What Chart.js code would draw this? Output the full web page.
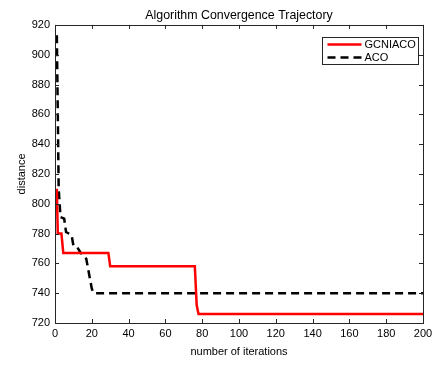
<!DOCTYPE html>
<html>
<head>
<meta charset="utf-8">
<script src="https://cdn.jsdelivr.net/npm/chart.js@4"></script>
<style>
  html, body { margin: 0; padding: 0; background: #fff; }
  #wrap { width: 444px; height: 367px; }
</style>
</head>
<body>
<div id="wrap"><canvas id="conv"></canvas></div>
<script>
// iterations where the curve changes, and the distance there
var gcnIter = [1, 1.5, 3.5, 4.5, 29, 30, 76, 77, 78, 200];
var gcnVal  = [810, 780, 780, 767, 767, 758, 758, 732, 726, 726];
var acoIter = [1, 2, 3, 5, 6, 9, 10, 12, 14, 17, 20, 21, 200];
var acoVal  = [913, 810, 791, 790, 781, 779, 772, 771, 767, 763, 743, 740, 740];
var xTicks = [0, 20, 40, 60, 80, 100, 120, 140, 160, 180, 200];
var yTicks = [720, 740, 760, 780, 800, 820, 840, 860, 880, 900, 920];
var seriesNames = ['GCNIACO', 'ACO'];

var FONT = 'Arial, "Liberation Sans", Helvetica, sans-serif';

function toPoints(xs, ys){
    return xs.map(function(x, i){ return {x: x, y: ys[i]}; });
}

// box round the axes + inward ticks, MATLAB style
var boxPlugin = {
    id: 'boxTicks',
    afterDatasetsDraw: function(chart){
        var ctx = chart.ctx, a = chart.chartArea;
        var xs = chart.scales.x, ys = chart.scales.y;
        ctx.save();
        ctx.strokeStyle = '#262626';
        ctx.lineWidth = 1;
        ctx.beginPath();
        xTicks.forEach(function(t){
            var px = Math.round(xs.getPixelForValue(t)) + 0.5;
            ctx.moveTo(px, a.bottom); ctx.lineTo(px, a.bottom - 4);
            ctx.moveTo(px, a.top); ctx.lineTo(px, a.top + 4);
        });
        yTicks.forEach(function(t){
            var py = Math.round(ys.getPixelForValue(t)) + 0.5;
            ctx.moveTo(a.left, py); ctx.lineTo(a.left + 4, py);
            ctx.moveTo(a.right, py); ctx.lineTo(a.right - 4, py);
        });
        ctx.stroke();
        ctx.strokeRect(Math.round(a.left) + 0.5, Math.round(a.top) + 0.5,
                       Math.round(a.right - a.left), Math.round(a.bottom - a.top));

        // legend
        var w = 96, h = 27;
        var lx = Math.round(a.right - 5 - w) + 0.5, ly = Math.round(a.top + 12) + 0.5;
        ctx.fillStyle = '#fff';
        ctx.fillRect(lx, ly, w, h);
        ctx.strokeRect(lx, ly, w, h);
        ctx.font = '11px ' + FONT;
        ctx.textBaseline = 'middle';
        ctx.textAlign = 'left';
        chart.data.datasets.forEach(function(ds, i){
            var yy = ly + 7 + i * 13;
            ctx.save();
            ctx.strokeStyle = ds.borderColor;
            ctx.lineWidth = 2.5;
            ctx.setLineDash(ds.borderDash || []);
            ctx.beginPath();
            ctx.moveTo(lx + 5, yy); ctx.lineTo(lx + 39, yy);
            ctx.stroke();
            ctx.restore();
            ctx.fillStyle = '#000';
            ctx.fillText(seriesNames[i], lx + 42, yy + 0.5);
        });
        ctx.restore();
    }
};

var ctx = document.getElementById('conv').getContext('2d');
var myChart = new Chart(ctx, {
    type: 'line',
    data: {
        datasets: [{
            label: seriesNames[0],
            data: toPoints(gcnIter, gcnVal),
            borderColor: '#ff0000',
            borderWidth: 2.5,
            pointRadius: 0,
            tension: 0,
            fill: false
        }, {
            label: seriesNames[1],
            data: toPoints(acoIter, acoVal),
            borderColor: '#000000',
            borderWidth: 2.5,
            borderDash: [8, 5],
            pointRadius: 0,
            tension: 0,
            fill: false
        }]
    },
    options: {
        responsive: true,
        maintainAspectRatio: false,
        animation: false,
        layout: { padding: { left: 0, right: 21, top: 0, bottom: 0 } },
        plugins: {
            legend: { display: false },
            tooltip: { enabled: false },
            title: {
                display: true,
                fullSize: false,
                text: 'Algorithm Convergence Trajectory',
                color: '#000',
                font: { family: FONT, size: 12.4, weight: 'normal' },
                padding: { top: 8, bottom: 2 }
            }
        },
        scales: {
            x: {
                type: 'linear',
                min: 0, max: 200,
                grid: { display: false, tickLength: 0 },
                border: { display: false },
                afterBuildTicks: function(s){ s.ticks = xTicks.map(function(v){ return {value: v}; }); },
                afterFit: function(s){ s.height = 44; },
                ticks: { color: '#000', padding: 4, maxRotation: 0, font: { family: FONT, size: 11 } },
                title: { display: true, text: 'number of iterations', color: '#000',
                         font: { family: FONT, size: 11 }, padding: { top: 0, bottom: 8 } }
            },
            y: {
                min: 720, max: 920,
                grid: { display: false, tickLength: 0 },
                border: { display: false },
                afterBuildTicks: function(s){ s.ticks = yTicks.map(function(v){ return {value: v}; }); },
                afterFit: function(s){ s.width = 55; },
                ticks: { color: '#000', padding: 5, font: { family: FONT, size: 11 } },
                title: { display: true, text: 'distance', color: '#000',
                         font: { family: FONT, size: 11 }, padding: { top: 15, bottom: 0 } }
            }
        }
    },
    plugins: [boxPlugin]
});
</script>
</body>
</html>
